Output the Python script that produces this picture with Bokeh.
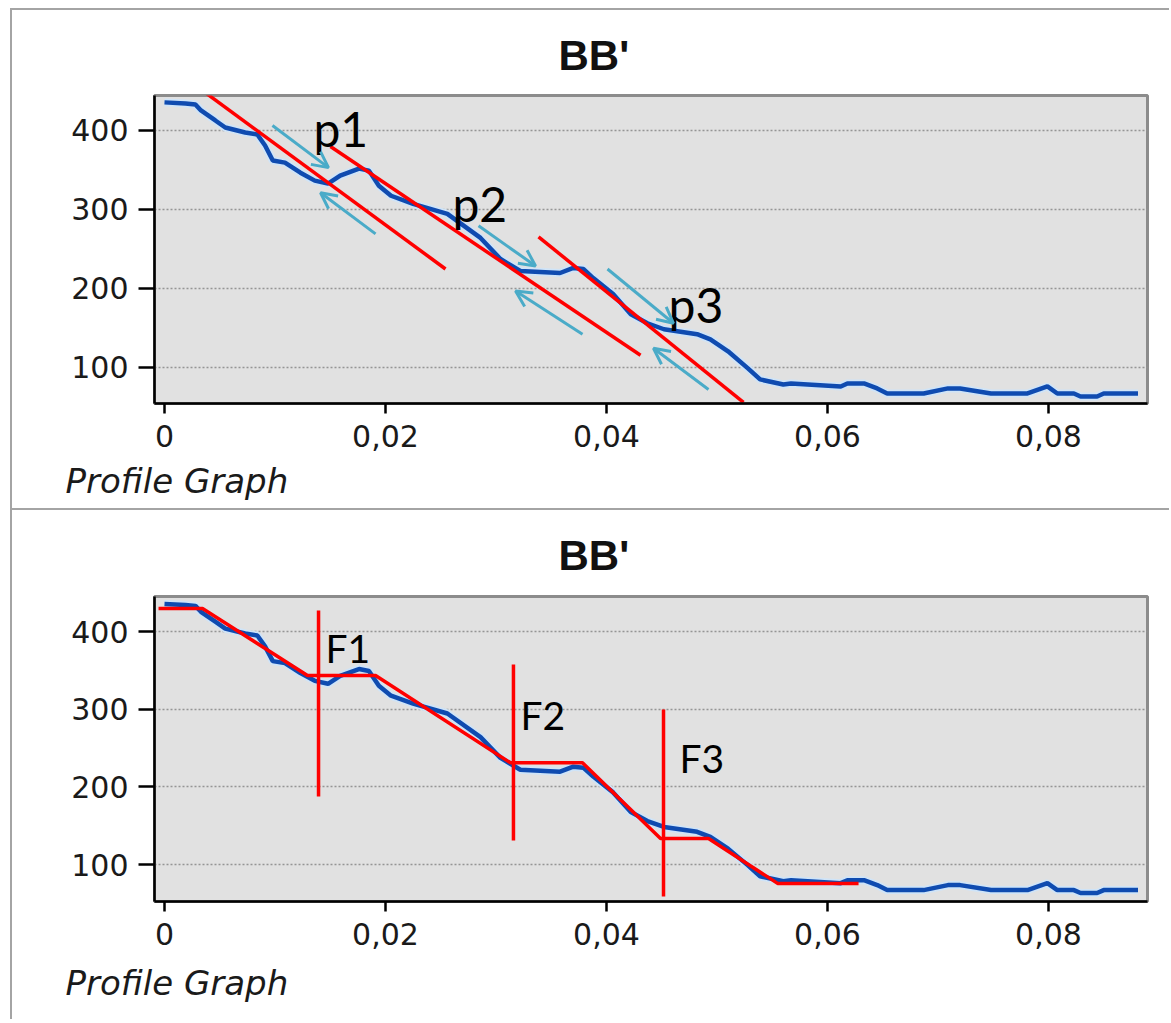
from bokeh.plotting import figure
from bokeh.models import Title, Arrow, OpenHead, FixedTicker, Range1d, ColumnDataSource
from bokeh.layouts import column
from bokeh.embed import file_html
from bokeh.resources import INLINE
from bokeh.core.properties import value

# ---- profile data (distance, elevation) ----
distance = [0.0, 0.0019, 0.0028, 0.0033, 0.0046, 0.0055, 0.0073, 0.0084, 0.0091, 0.0098,
            0.0109, 0.0123, 0.0136, 0.0148, 0.0159, 0.0176, 0.0185, 0.0194, 0.0205, 0.0225,
            0.0256, 0.0286, 0.0304, 0.0322, 0.0358, 0.0370, 0.0379, 0.0388, 0.0406, 0.0422,
            0.0437, 0.0452, 0.0482, 0.0494, 0.0510, 0.0528, 0.0539, 0.0560, 0.0567, 0.0612,
            0.0618, 0.0633, 0.0645, 0.0654, 0.0687, 0.0709, 0.0720, 0.0748, 0.0781, 0.0799,
            0.0808, 0.0823, 0.0829, 0.0844, 0.0850, 0.0881]
elevation = [435.6, 434.3, 433.0, 425.4, 412.7, 403.8, 397.5, 394.9, 380.9, 361.9,
             359.3, 346.6, 336.5, 332.7, 342.8, 351.7, 349.2, 330.1, 317.4, 307.2,
             294.5, 264.0, 237.4, 222.1, 219.6, 226.0, 224.7, 213.2, 192.9, 167.5,
             156.0, 148.4, 142.1, 135.7, 120.5, 98.9, 84.9, 78.5, 79.8, 76.0,
             79.8, 79.8, 73.5, 67.1, 67.1, 73.5, 73.5, 67.1, 67.1, 76.0,
             67.1, 67.1, 63.3, 63.3, 67.1, 67.1]

x_ticks = [0, 0.02, 0.04, 0.06, 0.08]
x_tick_labels = ["0", "0,02", "0,04", "0,06", "0,08"]
y_ticks = [100, 200, 300, 400]

title_text = "BB'"
footer_text = "Profile Graph"

# ---- top panel annotations ----
p_line_x0 = [0.00353, 0.01502, 0.03385]
p_line_y0 = [449.6, 379.7, 265.3]
p_line_x1 = [0.02543, 0.04308, 0.05240]
p_line_y1 = [224.7, 115.4, 55.7]

arrow_x0 = [0.00977, 0.01910, 0.02842, 0.03783, 0.04009, 0.04923]
arrow_y0 = [406.4, 269.1, 279.3, 142.1, 224.7, 72.2]
arrow_x1 = [0.01484, 0.01412, 0.03358, 0.03177, 0.04606, 0.04425]
arrow_y1 = [353.0, 321.2, 228.5, 196.7, 156.0, 124.3]

p_label_text = ["p1", "p2", "p3"]
p_label_x = [0.01348, 0.02606, 0.04561]
p_label_y = [402.5, 307.2, 180.2]

# ---- bottom panel annotations ----
step_x = [-0.00054, 0.00344, 0.01294, 0.01910, 0.03131, 0.03783, 0.04489, 0.04923, 0.05548, 0.06281]
step_y = [429.6, 429.6, 343.4, 343.4, 231.0, 231.0, 133.6, 133.6, 75.7, 75.7]

fault_x = [0.01394, 0.03158, 0.04516]
fault_top = [427.0, 357.5, 299.6]
fault_bottom = [187.6, 131.0, 58.9]

f_label_text = ["F1", "F2", "F3"]
f_label_x = [0.01457, 0.03222, 0.04661]
f_label_y = [379.4, 291.9, 236.6]

RED = "#ff0000"
CYAN = "#4aabc8"
BLUE = "#0f4bb0"


def make_panel(y_lo, y_hi, height, b_top, b_bottom, title_standoff, footer_standoff, extra_styles):
    p = figure(width=1159, height=height,
               x_range=Range1d(-0.000905, 0.08896), y_range=Range1d(y_lo, y_hi),
               output_backend="svg", toolbar_location=None,
               min_border_left=142, min_border_right=24,
               min_border_top=b_top, min_border_bottom=b_bottom)
    styles = {"margin-left": "10px", "border-left": "2px solid #a4a4a4",
              "border-top": "2px solid #a4a4a4"}
    styles.update(extra_styles)
    p.styles = styles
    p.background_fill_color = "#e1e1e1"
    p.border_fill_color = "white"
    p.outline_line_color = "#8c8c8c"
    p.outline_line_width = 3

    p.title.text = title_text
    p.title.align = "left"
    p.title.vertical_align = "middle"
    p.title.offset = 404
    p.title.standoff = title_standoff
    p.title.text_font = "Liberation Sans"
    p.title.text_font_style = "bold"
    p.title.text_font_size = "42px"
    p.title.text_color = "#111111"

    p.add_layout(Title(text=footer_text, align="left", offset=-89, standoff=footer_standoff,
                       text_font="DejaVu Sans", text_font_style="italic",
                       text_font_size="34px", text_color="#1a1a1a"), "below")

    p.xgrid.visible = False
    p.ygrid.ticker = FixedTicker(ticks=y_ticks)
    p.ygrid.grid_line_color = "#959595"
    p.ygrid.grid_line_dash = "2 2"
    p.ygrid.grid_line_width = 1.5

    p.xaxis.ticker = FixedTicker(ticks=x_ticks)
    p.xaxis.major_label_overrides = dict(zip(x_ticks, x_tick_labels))
    p.yaxis.ticker = FixedTicker(ticks=y_ticks)
    for ax in (p.xaxis[0], p.yaxis[0]):
        ax.axis_line_color = "black"
        ax.axis_line_width = 2.5
        ax.major_tick_line_color = "black"
        ax.major_tick_line_width = 2.5
        ax.major_tick_in = 0
        ax.minor_tick_line_color = None
        ax.major_label_text_font = "DejaVu Sans"
        ax.major_label_text_font_size = "30px"
        ax.major_label_text_color = "#1a1a1a"
    p.xaxis.major_tick_out = 10
    p.xaxis.major_label_standoff = 11
    p.yaxis.major_tick_out = 16
    p.yaxis.major_label_standoff = 10

    p.line(distance, elevation, line_color="#cfe4f8", line_width=8)
    p.line(distance, elevation, line_color=BLUE, line_width=4.5)
    return p


p1 = make_panel(54.4, 444.3, 500, 85, 107, 32, 18, {"margin-top": "8px"})
p1.segment(x0=p_line_x0, y0=p_line_y0, x1=p_line_x1, y1=p_line_y1, line_color=RED, line_width=3.5)
for xs, ys, xe, ye in zip(arrow_x0, arrow_y0, arrow_x1, arrow_y1):
    p1.add_layout(Arrow(x_start=xs, y_start=ys, x_end=xe, y_end=ye, line_color=CYAN, line_width=3,
                        end=OpenHead(size=16, line_width=3, line_color=CYAN)))
src_p = ColumnDataSource(dict(x=p_label_x, y=p_label_y, t=p_label_text))
p1.text(x="x", y="y", text="t", source=src_p, text_font=value("Lato"), text_font_size="48px",
        text_baseline="alphabetic", text_align="left", text_color="black")

p2 = make_panel(52.4, 445.1, 511, 86, 120, 34, 27, {})
p2.line(step_x, step_y, line_color=RED, line_width=3.5)
p2.segment(x0=fault_x, y0=fault_top, x1=fault_x, y1=fault_bottom, line_color=RED, line_width=3.5)
src_f = ColumnDataSource(dict(x=f_label_x, y=f_label_y, t=f_label_text))
p2.text(x="x", y="y", text="t", source=src_f, text_font=value("Lato"), text_font_size="39px",
        text_baseline="alphabetic", text_align="left", text_color="black")

layout = column(p1, p2, spacing=0)
open("out.html", "w").write(file_html(layout, INLINE))
